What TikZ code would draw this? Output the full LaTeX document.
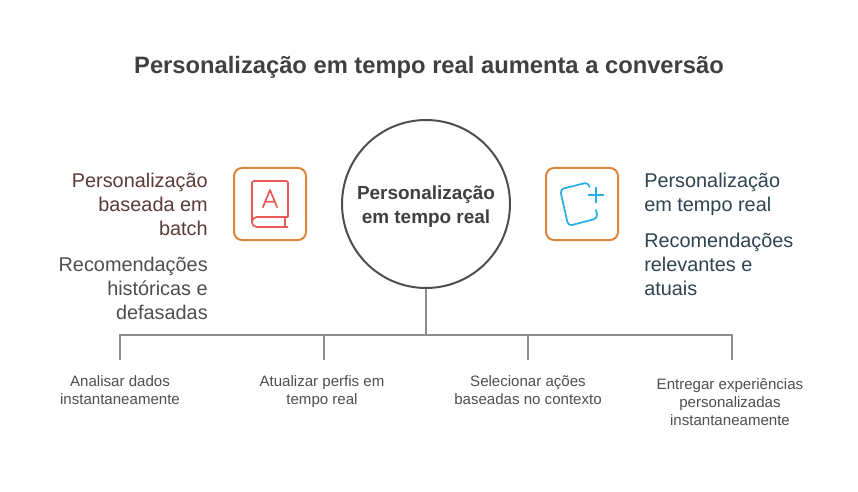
\documentclass[tikz,border=0pt]{standalone}
\usepackage{fontspec}
\setmainfont{Liberation Sans}
\usepackage{xcolor}
\usepackage{tikz}
\definecolor{titlegray}{RGB}{64,64,64}
\definecolor{bodygray}{RGB}{78,78,78}
\definecolor{brownhead}{RGB}{90,58,58}
\definecolor{slatehead}{RGB}{46,68,80}
\definecolor{linegray}{RGB}{140,140,140}
\definecolor{boxorange}{RGB}{224,134,56}
\definecolor{bookred}{RGB}{232,92,88}
\definecolor{pluscyan}{RGB}{40,174,224}
\tikzset{
  bigtext/.style={font=\fontsize{14.9}{18}\selectfont, inner sep=0pt},
  smalltext/.style={font=\fontsize{11.3}{13.5}\selectfont, text=bodygray, align=center, inner sep=0pt},
  iconbox/.style={draw=boxorange, line width=1.5pt, rounded corners=6pt, minimum width=54pt, minimum height=54pt},
  stem/.style={draw=linegray, line width=1.5pt}
}

\begin{document}
\begin{tikzpicture}[x=0.75pt, y=-0.75pt]
  \useasboundingbox (0,0) rectangle (858,492);
  \node[font=\fontsize{17.8}{22}\selectfont\bfseries, text=titlegray] (title) at (429,67.5) {Personalização em tempo real aumenta a conversão};

  \node[circle, draw=bodygray, line width=1.5pt, minimum size=126pt, inner sep=0pt] (hub) at (426,204) {};
  \node[align=center, inner sep=0pt, font=\fontsize{14.2}{18}\selectfont\bfseries, text=titlegray] (hubtext) at (426,206.5) {Personalização\\em tempo real};

  \node[iconbox] (batchbox) at (270,204) {};
  \node[iconbox] (realbox) at (582,204) {};

  \node[bigtext, anchor=north east, align=right, text=brownhead] (batchhead) at (208,173) {Personalização\\baseada em\\batch};
  \node[bigtext, anchor=north east, align=right, text=bodygray] (batchbody) at (208,257) {Recomendações\\históricas e\\defasadas};
  \node[bigtext, anchor=north west, align=left, text=slatehead] (realhead) at (644,173) {Personalização\\em tempo real};
  \node[bigtext, anchor=north west, align=left, text=slatehead] (realbody) at (644,233) {Recomendações\\relevantes e\\atuais};

  % book icon
  \draw[bookred, line width=1.3pt, rounded corners=1.5pt, line join=round]
    (288,217) -- (288,181) -- (252,181) -- (252,222);
  \draw[bookred, line width=1.3pt, rounded corners=3.5pt]
    (288,217) -- (252,217) -- (252,227) -- (288,227);
  \draw[bookred, line width=1.3pt] (285,217) -- (285,227);
  \draw[bookred, line width=1.3pt, line join=round]
    (262.7,207.7) -- (270,190) -- (277.3,207.7) (265,201.7) -- (275,201.7);

  % square with plus icon
  \draw[pluscyan, line width=1.3pt, rounded corners=3pt, line cap=round]
    (589.5,187) -- (588.3,182.3) -- (560,189.3) -- (568.3,226) -- (597.7,218.3) -- (596,210);
  \draw[pluscyan, line width=1.3pt] (587.7,195) -- (604.3,195) (596,186.7) -- (596,203.3);

  \coordinate (bar) at (426,335);
  \node[smalltext] (stepa) at (120,390) {Analisar dados\\instantaneamente};
  \node[smalltext] (stepb) at (322,391.5) {Atualizar perfis em\\tempo real};
  \node[smalltext] (stepc) at (528,390) {Selecionar ações\\baseadas no contexto};
  \node[smalltext] (stepd) at (730,402) {Entregar experiências\\personalizadas\\instantaneamente};
  \coordinate (dropa) at (120,360);
  \coordinate (dropb) at (324,360);
  \coordinate (dropc) at (528,360);
  \coordinate (dropd) at (732,360);

  \draw[stem] (hub.south) -- (bar);
  \foreach \d in {dropa,dropb,dropc,dropd}
    \draw[stem] (bar) -| (\d);
\end{tikzpicture}
\end{document}
